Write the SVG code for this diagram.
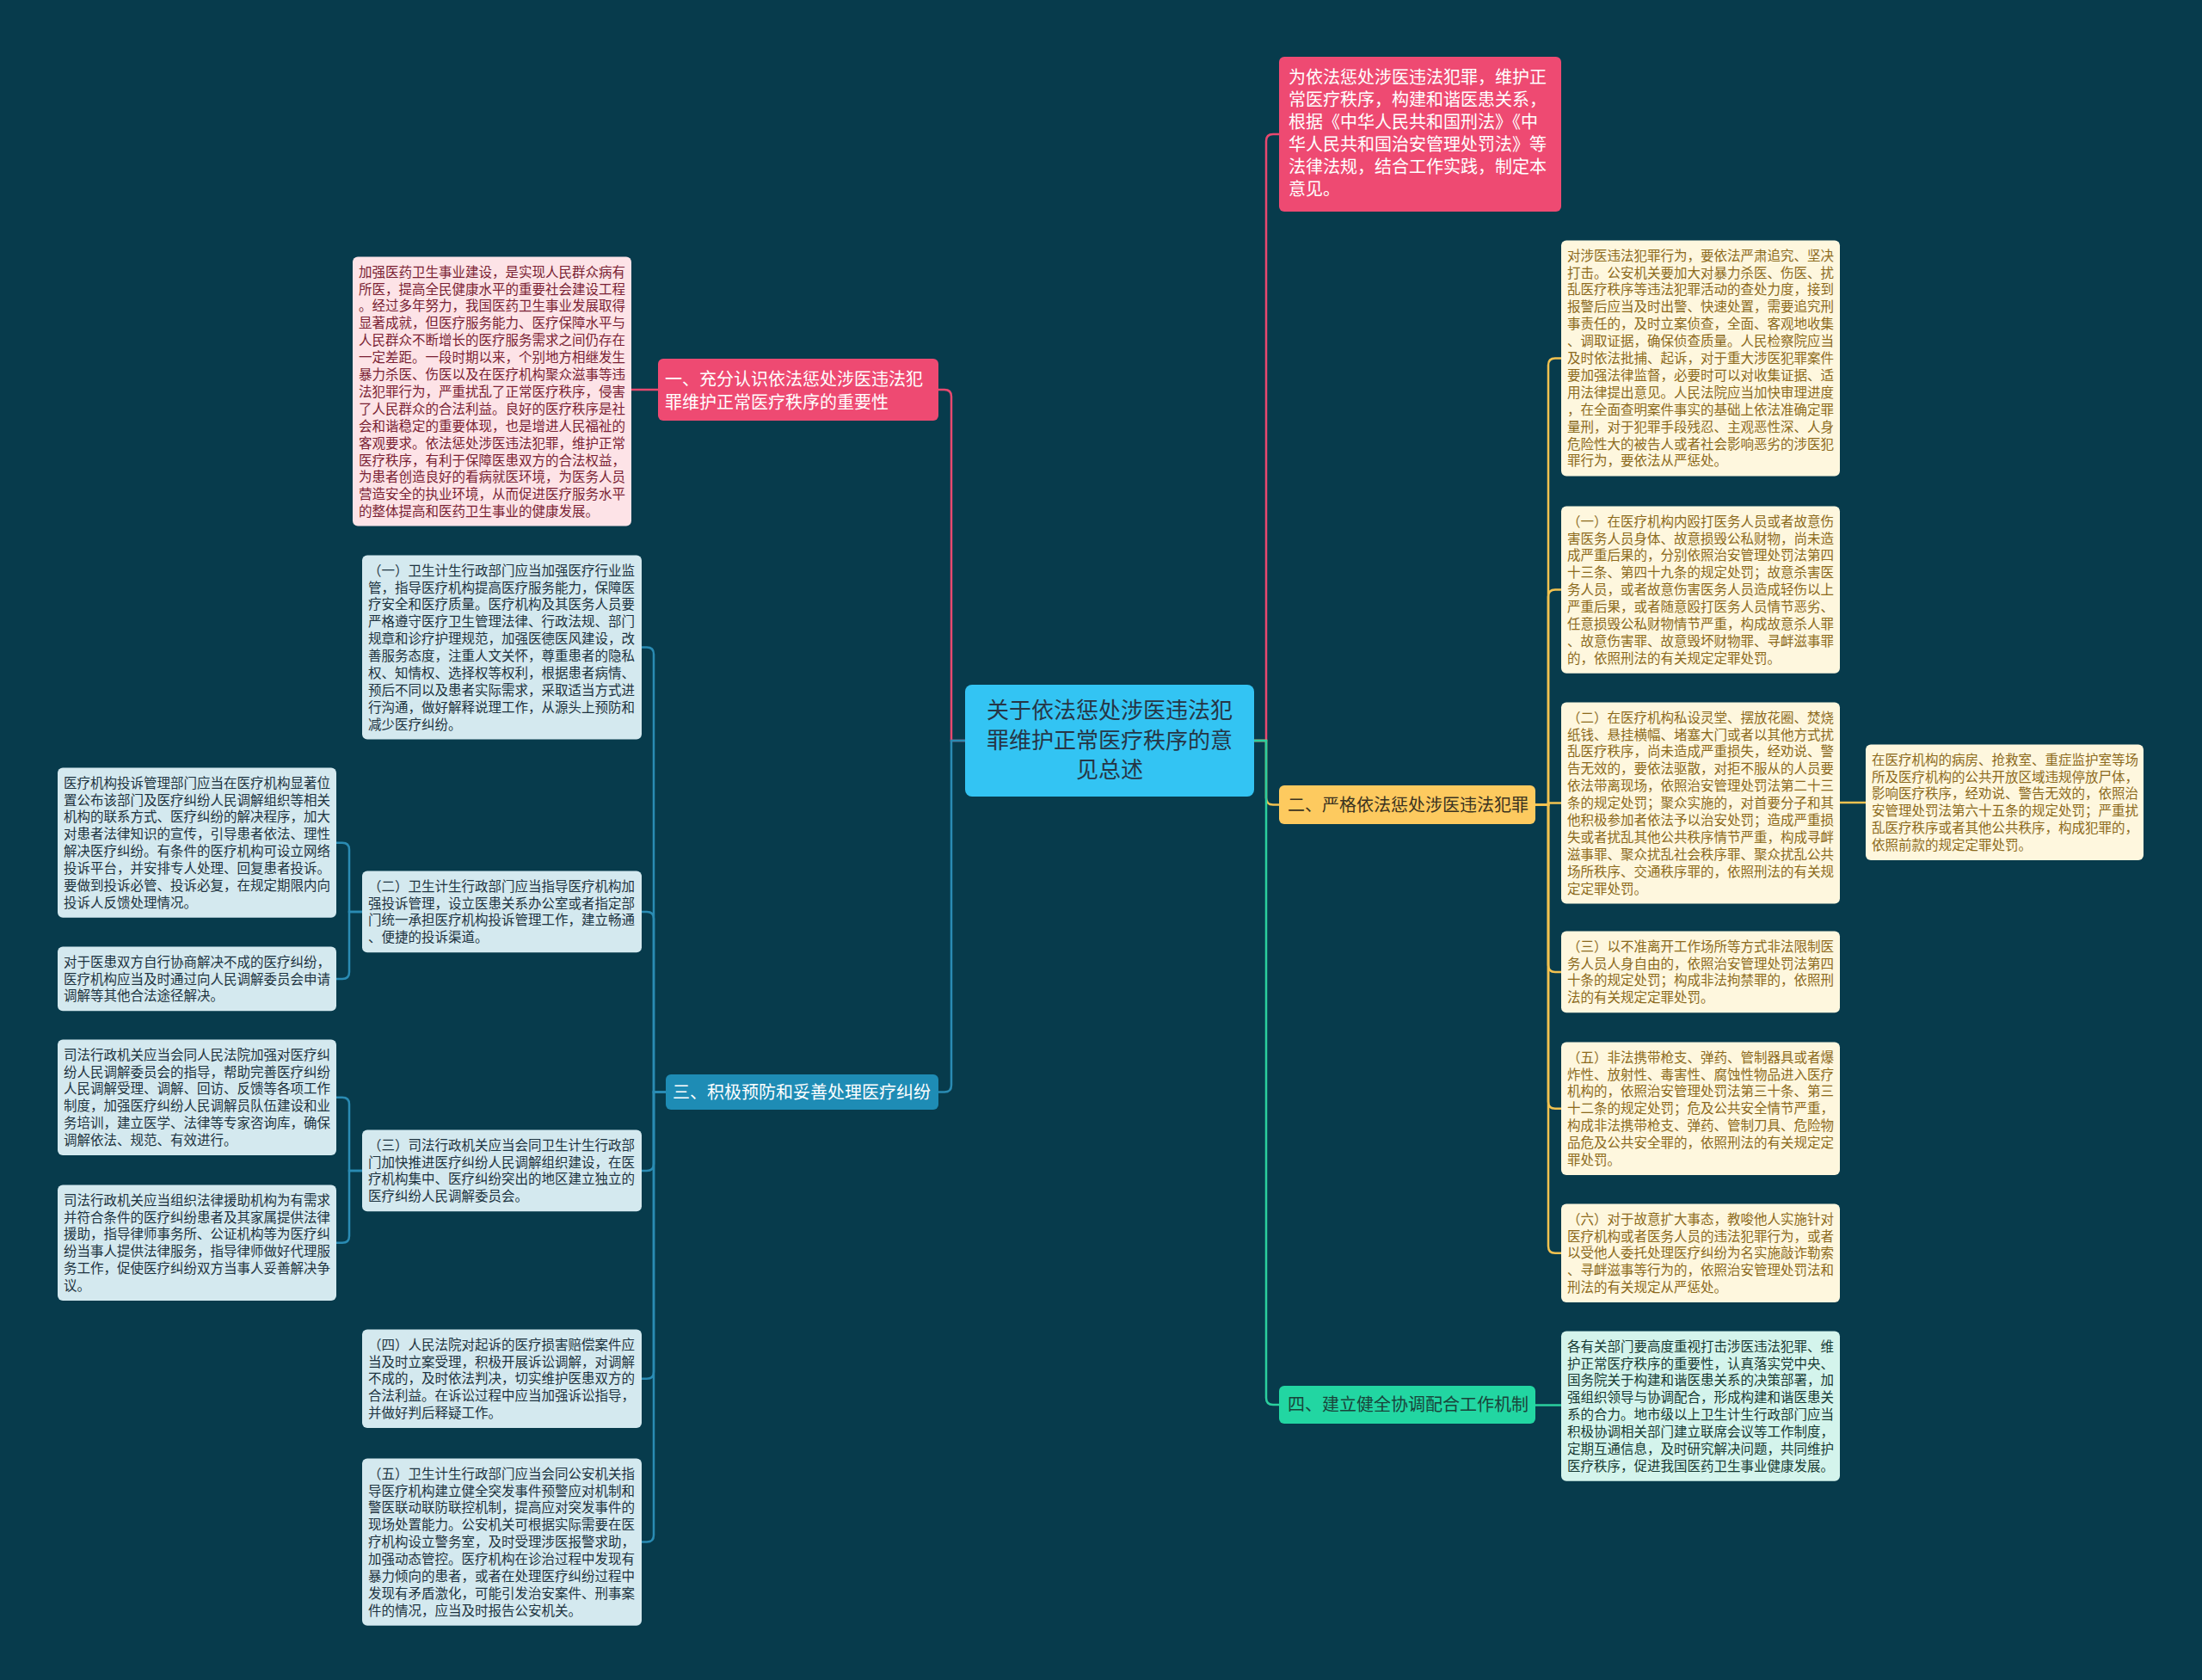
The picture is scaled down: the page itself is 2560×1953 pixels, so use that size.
<svg xmlns="http://www.w3.org/2000/svg" width="2560" height="1953" viewBox="0 0 2560 1953">
<style>
text{font-family:"Noto Sans CJK SC","Noto Sans",sans-serif;}
.s{font-size:15.5px;}
.m{font-size:20px;}
.pk{fill:#FDE3E7;}
.pkt{fill:#7A1F33;}
.bl{fill:#D4E9EF;}
.blt{fill:#1D3340;}
.yl{fill:#FEF7DE;}
.ylt{fill:#8C6A1C;}
.gr{fill:#D4F4EC;}
.grt{fill:#173A33;}
.c{fill:none;stroke-width:2.5;}
.cp{stroke:#E8486F;}
.cb{stroke:#2A8BB3;}
.cy{stroke:#F2C250;}
.cg{stroke:#2BCF9E;}
</style>
<rect x="0" y="0" width="2560" height="1953" fill="#073b4c"/>

<g id="connectors">
<path class="c cp" d="M1122,861 H1106 V461 Q1106,453 1098,453 H1091"/>
<path class="c cb" d="M1122,861 H1106 V1261.5 Q1106,1269.5 1098,1269.5 H1091"/>
<path class="c cp" d="M1458,861 H1472 V164 Q1472,156 1480,156 H1487"/>
<path class="c cy" d="M1458,861 H1472 V927.5 Q1472,935.5 1480,935.5 H1487"/>
<path class="c cg" d="M1458,861 H1472 V1625 Q1472,1633 1480,1633 H1487"/>
<path class="c cp" d="M765,453 H734"/>
<path class="c cb" d="M774,1269.5 H760 V760.5 Q760,752.5 752,752.5 H746"/>
<path class="c cb" d="M774,1269.5 H760 V1068 Q760,1060 752,1060 H746"/>
<path class="c cb" d="M774,1269.5 H760 V1353 Q760,1361 752,1361 H746"/>
<path class="c cb" d="M774,1269.5 H760 V1594.8 Q760,1602.8 752,1602.8 H746"/>
<path class="c cb" d="M774,1269.5 H760 V1784.6 Q760,1792.6 752,1792.6 H746"/>
<path class="c cb" d="M421,1060 H406 V987.7 Q406,979.7 398,979.7 H391"/>
<path class="c cb" d="M421,1060 H406 V1129.9 Q406,1137.9 398,1137.9 H391"/>
<path class="c cb" d="M421,1361 H406 V1283.8 Q406,1275.8 398,1275.8 H391"/>
<path class="c cb" d="M421,1361 H406 V1436.8 Q406,1444.8 398,1444.8 H391"/>
<path class="c cy" d="M1785,935.5 H1800 V424.5 Q1800,416.5 1808,416.5 H1815"/>
<path class="c cy" d="M1785,935.5 H1800 V693.6 Q1800,685.6 1808,685.6 H1815"/>
<path class="c cy" d="M1785,935.5 H1800 V933.5 H1815"/>
<path class="c cy" d="M1785,935.5 H1800 V1121.9 Q1800,1129.9 1808,1129.9 H1815"/>
<path class="c cy" d="M1785,935.5 H1800 V1280.7 Q1800,1288.7 1808,1288.7 H1815"/>
<path class="c cy" d="M1785,935.5 H1800 V1448.8 Q1800,1456.8 1808,1456.8 H1815"/>
<path class="c cy" d="M2139,933 H2169"/>
<path class="c cg" d="M1785,1633.5 H1815"/>
</g>

<g id="root">
<rect x="1122" y="796" width="336" height="130" rx="8" fill="#33C4F3"/>
<text x="1290" y="835.3" font-size="26" fill="#263646" text-anchor="middle"><tspan x="1290">关于依法惩处涉医违法犯</tspan><tspan x="1290" dy="34.5">罪维护正常医疗秩序的意</tspan><tspan x="1290" dy="34.5">见总述</tspan></text>
</g>

<g id="branch1">
<rect x="765" y="417" width="326" height="72" rx="6" fill="#EE4A72"/>
<text class="m" x="773" y="448.2" fill="#ffffff"><tspan x="773">一、充分认识依法惩处涉医违法犯</tspan><tspan x="773" dy="26.5">罪维护正常医疗秩序的重要性</tspan></text>
</g>

<g id="b1-text">
<rect class="pk" x="410" y="298.5" width="324" height="313" rx="6"/>
<text class="s pkt" x="417" y="321.6"><tspan x="417">加强医药卫生事业建设，是实现人民群众病有</tspan><tspan x="417" dy="19.9">所医，提高全民健康水平的重要社会建设工程</tspan><tspan x="417" dy="19.9">。经过多年努力，我国医药卫生事业发展取得</tspan><tspan x="417" dy="19.9">显著成就，但医疗服务能力、医疗保障水平与</tspan><tspan x="417" dy="19.9">人民群众不断增长的医疗服务需求之间仍存在</tspan><tspan x="417" dy="19.9">一定差距。一段时期以来，个别地方相继发生</tspan><tspan x="417" dy="19.9">暴力杀医、伤医以及在医疗机构聚众滋事等违</tspan><tspan x="417" dy="19.9">法犯罪行为，严重扰乱了正常医疗秩序，侵害</tspan><tspan x="417" dy="19.9">了人民群众的合法利益。良好的医疗秩序是社</tspan><tspan x="417" dy="19.9">会和谐稳定的重要体现，也是增进人民福祉的</tspan><tspan x="417" dy="19.9">客观要求。依法惩处涉医违法犯罪，维护正常</tspan><tspan x="417" dy="19.9">医疗秩序，有利于保障医患双方的合法权益，</tspan><tspan x="417" dy="19.9">为患者创造良好的看病就医环境，为医务人员</tspan><tspan x="417" dy="19.9">营造安全的执业环境，从而促进医疗服务水平</tspan><tspan x="417" dy="19.9">的整体提高和医药卫生事业的健康发展。</tspan></text>
</g>

<g id="branch3">
<rect x="774" y="1249" width="317" height="41" rx="6" fill="#1E8CB5"/>
<text class="m" x="782" y="1276.7" fill="#ffffff">三、积极预防和妥善处理医疗纠纷</text>
</g>

<g id="b3-1">
<rect class="bl" x="421" y="645.5" width="325" height="214" rx="6"/>
<text class="s blt" x="428" y="668.6"><tspan x="428">（一）卫生计生行政部门应当加强医疗行业监</tspan><tspan x="428" dy="19.9">管，指导医疗机构提高医疗服务能力，保障医</tspan><tspan x="428" dy="19.9">疗安全和医疗质量。医疗机构及其医务人员要</tspan><tspan x="428" dy="19.9">严格遵守医疗卫生管理法律、行政法规、部门</tspan><tspan x="428" dy="19.9">规章和诊疗护理规范，加强医德医风建设，改</tspan><tspan x="428" dy="19.9">善服务态度，注重人文关怀，尊重患者的隐私</tspan><tspan x="428" dy="19.9">权、知情权、选择权等权利，根据患者病情、</tspan><tspan x="428" dy="19.9">预后不同以及患者实际需求，采取适当方式进</tspan><tspan x="428" dy="19.9">行沟通，做好解释说理工作，从源头上预防和</tspan><tspan x="428" dy="19.9">减少医疗纠纷。</tspan></text>
</g>

<g id="b3-2">
<rect class="bl" x="421" y="1012.5" width="325" height="94.7" rx="6"/>
<text class="s blt" x="428" y="1035.6"><tspan x="428">（二）卫生计生行政部门应当指导医疗机构加</tspan><tspan x="428" dy="19.9">强投诉管理，设立医患关系办公室或者指定部</tspan><tspan x="428" dy="19.9">门统一承担医疗机构投诉管理工作，建立畅通</tspan><tspan x="428" dy="19.9">、便捷的投诉渠道。</tspan></text>
</g>

<g id="b3-2a">
<rect class="bl" x="67" y="892.5" width="324" height="174.3" rx="6"/>
<text class="s blt" x="74" y="915.6"><tspan x="74">医疗机构投诉管理部门应当在医疗机构显著位</tspan><tspan x="74" dy="19.9">置公布该部门及医疗纠纷人民调解组织等相关</tspan><tspan x="74" dy="19.9">机构的联系方式、医疗纠纷的解决程序，加大</tspan><tspan x="74" dy="19.9">对患者法律知识的宣传，引导患者依法、理性</tspan><tspan x="74" dy="19.9">解决医疗纠纷。有条件的医疗机构可设立网络</tspan><tspan x="74" dy="19.9">投诉平台，并安排专人处理、回复患者投诉。</tspan><tspan x="74" dy="19.9">要做到投诉必管、投诉必复，在规定期限内向</tspan><tspan x="74" dy="19.9">投诉人反馈处理情况。</tspan></text>
</g>

<g id="b3-2b">
<rect class="bl" x="67" y="1100.5" width="324" height="74.8" rx="6"/>
<text class="s blt" x="74" y="1123.6"><tspan x="74">对于医患双方自行协商解决不成的医疗纠纷，</tspan><tspan x="74" dy="19.9">医疗机构应当及时通过向人民调解委员会申请</tspan><tspan x="74" dy="19.9">调解等其他合法途径解决。</tspan></text>
</g>

<g id="b3-3">
<rect class="bl" x="421" y="1313.5" width="325" height="94.7" rx="6"/>
<text class="s blt" x="428" y="1336.6"><tspan x="428">（三）司法行政机关应当会同卫生计生行政部</tspan><tspan x="428" dy="19.9">门加快推进医疗纠纷人民调解组织建设，在医</tspan><tspan x="428" dy="19.9">疗机构集中、医疗纠纷突出的地区建立独立的</tspan><tspan x="428" dy="19.9">医疗纠纷人民调解委员会。</tspan></text>
</g>

<g id="b3-3a">
<rect class="bl" x="67" y="1208.5" width="324" height="134.5" rx="6"/>
<text class="s blt" x="74" y="1231.6"><tspan x="74">司法行政机关应当会同人民法院加强对医疗纠</tspan><tspan x="74" dy="19.9">纷人民调解委员会的指导，帮助完善医疗纠纷</tspan><tspan x="74" dy="19.9">人民调解受理、调解、回访、反馈等各项工作</tspan><tspan x="74" dy="19.9">制度，加强医疗纠纷人民调解员队伍建设和业</tspan><tspan x="74" dy="19.9">务培训，建立医学、法律等专家咨询库，确保</tspan><tspan x="74" dy="19.9">调解依法、规范、有效进行。</tspan></text>
</g>

<g id="b3-3b">
<rect class="bl" x="67" y="1377.5" width="324" height="134.5" rx="6"/>
<text class="s blt" x="74" y="1400.6"><tspan x="74">司法行政机关应当组织法律援助机构为有需求</tspan><tspan x="74" dy="19.9">并符合条件的医疗纠纷患者及其家属提供法律</tspan><tspan x="74" dy="19.9">援助，指导律师事务所、公证机构等为医疗纠</tspan><tspan x="74" dy="19.9">纷当事人提供法律服务，指导律师做好代理服</tspan><tspan x="74" dy="19.9">务工作，促使医疗纠纷双方当事人妥善解决争</tspan><tspan x="74" dy="19.9">议。</tspan></text>
</g>

<g id="b3-4">
<rect class="bl" x="421" y="1545.5" width="325" height="114.6" rx="6"/>
<text class="s blt" x="428" y="1568.6"><tspan x="428">（四）人民法院对起诉的医疗损害赔偿案件应</tspan><tspan x="428" dy="19.9">当及时立案受理，积极开展诉讼调解，对调解</tspan><tspan x="428" dy="19.9">不成的，及时依法判决，切实维护医患双方的</tspan><tspan x="428" dy="19.9">合法利益。在诉讼过程中应当加强诉讼指导，</tspan><tspan x="428" dy="19.9">并做好判后释疑工作。</tspan></text>
</g>

<g id="b3-5">
<rect class="bl" x="421" y="1695.5" width="325" height="194.2" rx="6"/>
<text class="s blt" x="428" y="1718.6"><tspan x="428">（五）卫生计生行政部门应当会同公安机关指</tspan><tspan x="428" dy="19.9">导医疗机构建立健全突发事件预警应对机制和</tspan><tspan x="428" dy="19.9">警医联动联防联控机制，提高应对突发事件的</tspan><tspan x="428" dy="19.9">现场处置能力。公安机关可根据实际需要在医</tspan><tspan x="428" dy="19.9">疗机构设立警务室，及时受理涉医报警求助，</tspan><tspan x="428" dy="19.9">加强动态管控。医疗机构在诊治过程中发现有</tspan><tspan x="428" dy="19.9">暴力倾向的患者，或者在处理医疗纠纷过程中</tspan><tspan x="428" dy="19.9">发现有矛盾激化，可能引发治安案件、刑事案</tspan><tspan x="428" dy="19.9">件的情况，应当及时报告公安机关。</tspan></text>
</g>

<g id="intro">
<rect x="1487" y="66" width="328" height="180" rx="6" fill="#EE4A72"/>
<text class="m" x="1498" y="97.2" fill="#ffffff"><tspan x="1498">为依法惩处涉医违法犯罪，维护正</tspan><tspan x="1498" dy="26">常医疗秩序，构建和谐医患关系，</tspan><tspan x="1498" dy="26">根据《中华人民共和国刑法》《中</tspan><tspan x="1498" dy="26">华人民共和国治安管理处罚法》等</tspan><tspan x="1498" dy="26">法律法规，结合工作实践，制定本</tspan><tspan x="1498" dy="26">意见。</tspan></text>
</g>

<g id="branch2">
<rect x="1487" y="913" width="298" height="45" rx="6" fill="#FDCA5F"/>
<text class="m" x="1497" y="942.7" fill="#3b3320">二、严格依法惩处涉医违法犯罪</text>
</g>

<g id="b2-0">
<rect class="yl" x="1815" y="279.5" width="324" height="274" rx="6"/>
<text class="s ylt" x="1822" y="302.6"><tspan x="1822">对涉医违法犯罪行为，要依法严肃追究、坚决</tspan><tspan x="1822" dy="19.9">打击。公安机关要加大对暴力杀医、伤医、扰</tspan><tspan x="1822" dy="19.9">乱医疗秩序等违法犯罪活动的查处力度，接到</tspan><tspan x="1822" dy="19.9">报警后应当及时出警、快速处置，需要追究刑</tspan><tspan x="1822" dy="19.9">事责任的，及时立案侦查，全面、客观地收集</tspan><tspan x="1822" dy="19.9">、调取证据，确保侦查质量。人民检察院应当</tspan><tspan x="1822" dy="19.9">及时依法批捕、起诉，对于重大涉医犯罪案件</tspan><tspan x="1822" dy="19.9">要加强法律监督，必要时可以对收集证据、适</tspan><tspan x="1822" dy="19.9">用法律提出意见。人民法院应当加快审理进度</tspan><tspan x="1822" dy="19.9">，在全面查明案件事实的基础上依法准确定罪</tspan><tspan x="1822" dy="19.9">量刑，对于犯罪手段残忍、主观恶性深、人身</tspan><tspan x="1822" dy="19.9">危险性大的被告人或者社会影响恶劣的涉医犯</tspan><tspan x="1822" dy="19.9">罪行为，要依法从严惩处。</tspan></text>
</g>

<g id="b2-1">
<rect class="yl" x="1815" y="588.5" width="324" height="194.2" rx="6"/>
<text class="s ylt" x="1822" y="611.6"><tspan x="1822">（一）在医疗机构内殴打医务人员或者故意伤</tspan><tspan x="1822" dy="19.9">害医务人员身体、故意损毁公私财物，尚未造</tspan><tspan x="1822" dy="19.9">成严重后果的，分别依照治安管理处罚法第四</tspan><tspan x="1822" dy="19.9">十三条、第四十九条的规定处罚；故意杀害医</tspan><tspan x="1822" dy="19.9">务人员，或者故意伤害医务人员造成轻伤以上</tspan><tspan x="1822" dy="19.9">严重后果，或者随意殴打医务人员情节恶劣、</tspan><tspan x="1822" dy="19.9">任意损毁公私财物情节严重，构成故意杀人罪</tspan><tspan x="1822" dy="19.9">、故意伤害罪、故意毁坏财物罪、寻衅滋事罪</tspan><tspan x="1822" dy="19.9">的，依照刑法的有关规定定罪处罚。</tspan></text>
</g>

<g id="b2-2">
<rect class="yl" x="1815" y="816.5" width="324" height="234" rx="6"/>
<text class="s ylt" x="1822" y="839.6"><tspan x="1822">（二）在医疗机构私设灵堂、摆放花圈、焚烧</tspan><tspan x="1822" dy="19.9">纸钱、悬挂横幅、堵塞大门或者以其他方式扰</tspan><tspan x="1822" dy="19.9">乱医疗秩序，尚未造成严重损失，经劝说、警</tspan><tspan x="1822" dy="19.9">告无效的，要依法驱散，对拒不服从的人员要</tspan><tspan x="1822" dy="19.9">依法带离现场，依照治安管理处罚法第二十三</tspan><tspan x="1822" dy="19.9">条的规定处罚；聚众实施的，对首要分子和其</tspan><tspan x="1822" dy="19.9">他积极参加者依法予以治安处罚；造成严重损</tspan><tspan x="1822" dy="19.9">失或者扰乱其他公共秩序情节严重，构成寻衅</tspan><tspan x="1822" dy="19.9">滋事罪、聚众扰乱社会秩序罪、聚众扰乱公共</tspan><tspan x="1822" dy="19.9">场所秩序、交通秩序罪的，依照刑法的有关规</tspan><tspan x="1822" dy="19.9">定定罪处罚。</tspan></text>
</g>

<g id="b2-2a">
<rect class="yl" x="2169" y="865.5" width="323" height="134.5" rx="6"/>
<text class="s ylt" x="2176" y="888.6"><tspan x="2176">在医疗机构的病房、抢救室、重症监护室等场</tspan><tspan x="2176" dy="19.9">所及医疗机构的公共开放区域违规停放尸体，</tspan><tspan x="2176" dy="19.9">影响医疗秩序，经劝说、警告无效的，依照治</tspan><tspan x="2176" dy="19.9">安管理处罚法第六十五条的规定处罚；严重扰</tspan><tspan x="2176" dy="19.9">乱医疗秩序或者其他公共秩序，构成犯罪的，</tspan><tspan x="2176" dy="19.9">依照前款的规定定罪处罚。</tspan></text>
</g>

<g id="b2-3">
<rect class="yl" x="1815" y="1082.5" width="324" height="94.7" rx="6"/>
<text class="s ylt" x="1822" y="1105.6"><tspan x="1822">（三）以不准离开工作场所等方式非法限制医</tspan><tspan x="1822" dy="19.9">务人员人身自由的，依照治安管理处罚法第四</tspan><tspan x="1822" dy="19.9">十条的规定处罚；构成非法拘禁罪的，依照刑</tspan><tspan x="1822" dy="19.9">法的有关规定定罪处罚。</tspan></text>
</g>

<g id="b2-5">
<rect class="yl" x="1815" y="1211.5" width="324" height="154.4" rx="6"/>
<text class="s ylt" x="1822" y="1234.6"><tspan x="1822">（五）非法携带枪支、弹药、管制器具或者爆</tspan><tspan x="1822" dy="19.9">炸性、放射性、毒害性、腐蚀性物品进入医疗</tspan><tspan x="1822" dy="19.9">机构的，依照治安管理处罚法第三十条、第三</tspan><tspan x="1822" dy="19.9">十二条的规定处罚；危及公共安全情节严重，</tspan><tspan x="1822" dy="19.9">构成非法携带枪支、弹药、管制刀具、危险物</tspan><tspan x="1822" dy="19.9">品危及公共安全罪的，依照刑法的有关规定定</tspan><tspan x="1822" dy="19.9">罪处罚。</tspan></text>
</g>

<g id="b2-6">
<rect class="yl" x="1815" y="1399.5" width="324" height="114.6" rx="6"/>
<text class="s ylt" x="1822" y="1422.6"><tspan x="1822">（六）对于故意扩大事态，教唆他人实施针对</tspan><tspan x="1822" dy="19.9">医疗机构或者医务人员的违法犯罪行为，或者</tspan><tspan x="1822" dy="19.9">以受他人委托处理医疗纠纷为名实施敲诈勒索</tspan><tspan x="1822" dy="19.9">、寻衅滋事等行为的，依照治安管理处罚法和</tspan><tspan x="1822" dy="19.9">刑法的有关规定从严惩处。</tspan></text>
</g>

<g id="branch4">
<rect x="1487" y="1611" width="298" height="44" rx="6" fill="#22D6A2"/>
<text class="m" x="1497" y="1640.2" fill="#19443a">四、建立健全协调配合工作机制</text>
</g>

<g id="b4-0">
<rect class="gr" x="1815" y="1547.5" width="324" height="174.3" rx="6"/>
<text class="s grt" x="1822" y="1570.6"><tspan x="1822">各有关部门要高度重视打击涉医违法犯罪、维</tspan><tspan x="1822" dy="19.9">护正常医疗秩序的重要性，认真落实党中央、</tspan><tspan x="1822" dy="19.9">国务院关于构建和谐医患关系的决策部署，加</tspan><tspan x="1822" dy="19.9">强组织领导与协调配合，形成构建和谐医患关</tspan><tspan x="1822" dy="19.9">系的合力。地市级以上卫生计生行政部门应当</tspan><tspan x="1822" dy="19.9">积极协调相关部门建立联席会议等工作制度，</tspan><tspan x="1822" dy="19.9">定期互通信息，及时研究解决问题，共同维护</tspan><tspan x="1822" dy="19.9">医疗秩序，促进我国医药卫生事业健康发展。</tspan></text>
</g>
</svg>
